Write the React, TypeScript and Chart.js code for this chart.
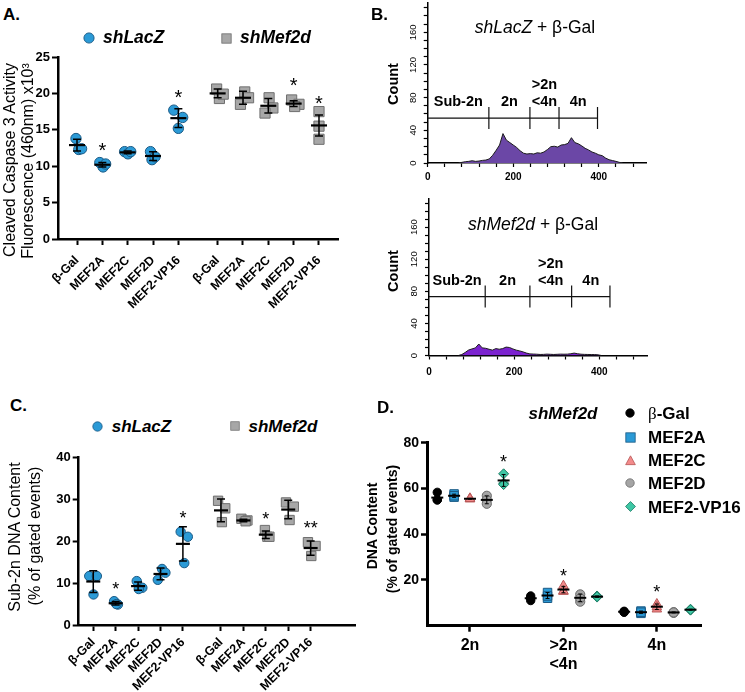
import React, { useEffect, useRef } from 'react';
import { Chart, registerables } from 'chart.js';
Chart.register(...registerables);

const FONT = "'Liberation Sans', Arial, Helvetica, sans-serif";
const SERIF = "'Liberation Serif', 'Times New Roman', serif";

// ---------------- Panel A: caspase 3 activity ----------------
const groupNames = ['β-Gal', 'MEF2A', 'MEF2C', 'MEF2D', 'MEF2-VP16'];
const caspaseLacZ = [[13.8, 12.3, 12.4], [10.5, 9.9, 10.3], [12.0, 11.7, 12.0], [12.0, 10.9, 11.3], [17.7, 16.7, 15.2]];
const caspaseMef2d = [[20.6, 19.3, 19.9], [20.2, 18.5, 19.4], [19.4, 18.0, 17.3], [19.1, 18.5, 18.2], [17.5, 15.5, 13.7]];
const caspaseLacZMean = [12.9, 10.2, 11.9, 11.4, 16.6];
const caspaseLacZSd = [0.8, 0.3, 0.2, 0.6, 1.3];
const caspaseMef2dMean = [20.0, 19.4, 18.3, 18.6, 15.6];
const caspaseMef2dSd = [0.6, 0.9, 1.0, 0.4, 1.45];
const caspaseStars: [number, number, string][] = [[1, 12.9, '*'], [4, 20.2, '*'], [8, 21.8, '*'], [9, 19.3, '*']];
const caspaseYTicks = [0, 5, 10, 15, 20, 25];

// ---------------- Panel C: sub-2n DNA content ----------------
const sub2nLacZ = [[11.7, 11.7, 7.3], [5.7, 4.9, 5.0], [10.5, 8.9, 8.6], [10.8, 13.4, 12.5], [22.3, 21.1, 14.8]];
const sub2nMef2d = [[29.7, 27.9, 24.6], [25.4, 25.0, 24.8], [22.7, 21.1, 21.1], [29.3, 28.3, 25.1], [19.8, 18.9, 16.5]];
const sub2nLacZMean = [10.4, 5.2, 9.3, 12.2, 19.4];
const sub2nLacZSd = [2.6, 0.4, 1.0, 1.4, 4.1];
const sub2nMef2dMean = [27.4, 25.0, 21.6, 27.6, 18.4];
const sub2nMef2dSd = [2.7, 0.3, 0.9, 2.2, 1.7];
const sub2nStars: [number, number, string][] = [[1, 9.6, '*'], [4, 26.7, '*'], [7, 26.3, '*'], [9, 24.3, '**']];
const sub2nYTicks = [0, 10, 20, 30, 40];

// ---------------- Panel B: DNA histograms ----------------
const histBinWidth = 8;
const lacZHistStart = 72;
const lacZCounts = [0, 0.8, 1.6, 2, 2.8, 2, 2.4, 3.2, 3.6, 5, 9.5, 15.5, 22, 36, 28, 25, 22, 19, 15, 12, 11, 11.5, 11, 12.5, 12, 13.5, 16.5, 20, 20.5, 19.5, 22, 22.5, 24, 31, 25, 23.5, 21, 18, 16, 13.5, 12, 10, 9, 6, 4, 3, 2, 0.8, 0];
const mef2dHistStart = 69;
const mef2dCounts = [0, 1.2, 3.8, 6.8, 8.2, 9.5, 14.3, 9.5, 9, 7.8, 6.7, 8.6, 7.8, 8.6, 10.5, 10, 8.2, 6.7, 5.7, 4.5, 3, 2, 1.8, 1.6, 1.3, 1.4, 1.7, 1.5, 1.3, 1.5, 1.7, 1.6, 1.7, 2.2, 3, 2.2, 1.6, 1.4, 1.3, 1.2, 1.2, 0.8, 0];
const lacZGates = [0, 143, 239, 307, 397];
const lacZGateY = 55;
const mef2dGates = [0, 132, 237, 335, 425];
const mef2dGateY = 73.5;
const gateNames = [['Sub-2n'], ['2n'], ['>2n', '<4n'], ['4n']];
const histXTicks = [0, 40, 80, 120, 160, 200, 240, 280, 320, 360, 400, 440, 480];
const histXLabels = [0, 200, 400];
const histYTicks = [0, 10, 20, 30, 40, 50, 60, 70, 80, 90, 100, 110, 120, 130, 140, 150, 160, 170, 180, 190];
const histYLabels = [0, 40, 80, 120, 160];

// ---------------- Panel D: DNA content in shMef2d ----------------
const dnaCategories: (string | string[])[] = ['2n', ['>2n', '<4n'], '4n'];
const dnaSeriesNames = ['β-Gal', 'MEF2A', 'MEF2C', 'MEF2D', 'MEF2-VP16'];
const dnaBGal = [[58.3, 55.0, 55.0], [13.0, 11.0, 12.0], [6.3, 6.0, 5.9]];
const dnaMef2a = [[57.6, 56.2, 56.8], [14.5, 12.0, 13.0], [6.4, 5.4, 5.9]];
const dnaMef2c = [[55.7, 55.3, 55.5], [17.5, 14.9, 15.2], [9.5, 7.2, 8.2]];
const dnaMef2d = [[56.8, 55.0, 53.3], [13.7, 10.5, 12.0], [5.9, 5.6, 5.8]];
const dnaVp16 = [[66.4, 62.3, 61.7], [13.0, 12.5, 12.7], [7.2, 6.8, 7.0]];
const dnaMeans = [[56.0, 12.0, 6.1], [56.8, 13.2, 5.9], [55.5, 15.8, 8.3], [55.0, 12.2, 5.8], [63.5, 12.7, 7.0]];
const dnaSds = [[1.9, 1.0, 0.2], [0.7, 1.3, 0.5], [0.2, 1.4, 1.2], [1.7, 1.6, 0.2], [2.6, 0.3, 0.2]];
const dnaStars: [number, number, number, string][] = [[4, 0, 73.3, '*'], [2, 1, 23.6, '*'], [2, 2, 16.8, '*']];
const dnaYTicks = [20, 40, 60, 80];

// ---------------- layout / style (not data) ----------------
const caspasePositions = [0, 1, 2, 3, 4, 5.55, 6.55, 7.55, 8.55, 9.55];
const sub2nPositions = [0, 1, 2, 3, 4, 5.7, 6.7, 7.7, 8.7, 9.7];
const caspaseJitterL = [[-0.04, 0.07, 0.18], [-0.1, 0.03, 0.13], [-0.12, 0.01, 0.12], [-0.1, -0.04, 0.08], [-0.18, 0.17, 0]];
const caspaseJitterM = [[-0.04, 0.07, 0.22], [0.07, -0.1, 0.22], [0.03, 0.18, -0.13], [-0.08, 0.21, 0.04], [0, 0, 0]];
const sub2nJitterL = [[-0.18, 0.16, 0.01], [-0.07, 0.1, 0.03], [-0.06, 0.19, 0.03], [-0.12, 0.07, 0.22], [-0.1, 0.22, 0.06]];
const sub2nJitterM = [[-0.13, 0.19, 0.04], [-0.09, 0.18, 0.1], [-0.04, 0.07, 0.16], [-0.1, 0.25, 0.06], [-0.12, 0.22, 0.03]];
const dnaOffsets = [-0.35, -0.17, 0, 0.18, 0.36];
const BLUE = '#2b9ad6';
const BLUE_EDGE = '#1b5a85';
const GREY = '#a7a7a7';
const GREY_EDGE = '#6f6f6f';
const dnaStyles = [
  { shape: 'circle', r: 4.2, fill: '#000000', edge: '#000000' },
  { shape: 'rect', r: 6, fill: BLUE, edge: BLUE_EDGE },
  { shape: 'triangle', r: 5.5, fill: '#f38b8b', edge: '#b95757' },
  { shape: 'circle', r: 4.6, fill: '#a5a5a5', edge: '#6a6a6a' },
  { shape: 'rectRot', r: 5, fill: '#3ec7a5', edge: '#1e7a64' },
];

function tickGrid(len: number, width: number) {
  return { display: true, drawOnChartArea: false, drawTicks: true, tickLength: len, tickWidth: width, tickColor: '#000' };
}

function drawStar(ctx: CanvasRenderingContext2D, text: string, px: number, py: number, size: number) {
  ctx.font = `${size}px ${FONT}`;
  ctx.textAlign = 'center';
  ctx.textBaseline = 'alphabetic';
  ctx.fillStyle = '#000';
  ctx.fillText(text, px, py + size * 0.58);
}

function groupStatsPlugin(positions: number[], means: number[], sds: number[], stars: [number, number, string][], half: number, cap: number, starSize: number) {
  return {
    id: 'groupStats',
    afterDatasetsDraw(chart: any) {
      const { ctx, scales } = chart;
      const x = scales.x;
      const y = scales.y;
      ctx.save();
      ctx.strokeStyle = '#000';
      means.forEach((m, i) => {
        const px = x.getPixelForValue(positions[i]);
        const py = y.getPixelForValue(m);
        const top = y.getPixelForValue(m + sds[i]);
        const bot = y.getPixelForValue(m - sds[i]);
        ctx.lineWidth = 1.5;
        ctx.beginPath();
        ctx.moveTo(px, top); ctx.lineTo(px, bot);
        ctx.moveTo(px - cap, top); ctx.lineTo(px + cap, top);
        ctx.moveTo(px - cap, bot); ctx.lineTo(px + cap, bot);
        ctx.stroke();
        ctx.lineWidth = 2.2;
        ctx.beginPath();
        ctx.moveTo(px - half, py); ctx.lineTo(px + half, py);
        ctx.stroke();
      });
      stars.forEach(([i, v, t]) => drawStar(ctx, t, x.getPixelForValue(positions[i]), y.getPixelForValue(v), starSize));
      ctx.restore();
    },
  };
}

function buildGroupChart(canvas: HTMLCanvasElement, p: any) {
  const lacPts: any[] = [];
  const mefPts: any[] = [];
  p.lacz.forEach((reps: number[], g: number) => reps.forEach((v, r) => lacPts.push({ x: p.positions[g] + p.jitL[g][r], y: v })));
  p.mef.forEach((reps: number[], g: number) => reps.forEach((v, r) => mefPts.push({ x: p.positions[g + 5] + p.jitM[g][r], y: v })));
  const labels = [...groupNames, ...groupNames];
  return new Chart(canvas, {
    type: 'scatter',
    data: {
      datasets: [
        { data: lacPts, pointStyle: 'circle', pointRadius: p.circleR, pointHoverRadius: p.circleR, backgroundColor: BLUE, borderColor: BLUE_EDGE, borderWidth: 1 },
        { data: mefPts, pointStyle: 'rect', pointRadius: p.rectR, pointHoverRadius: p.rectR, backgroundColor: GREY, borderColor: GREY_EDGE, borderWidth: 1 },
      ],
    },
    options: {
      animation: false,
      responsive: false,
      devicePixelRatio: 1,
      events: [],
      layout: { padding: p.padding },
      plugins: { legend: { display: false }, tooltip: { enabled: false } },
      scales: {
        x: {
          type: 'linear', min: p.xMin, max: p.xMax,
          afterBuildTicks: (s: any) => { s.ticks = p.positions.map((v: number) => ({ value: v })); },
          ticks: {
            autoSkip: false, minRotation: 45, maxRotation: 45, padding: p.xPad, color: '#000',
            font: { family: FONT, size: 12.5, weight: 'bold' },
            callback: (_v: any, i: number) => labels[i],
          },
          grid: tickGrid(6, 2),
          border: { display: true, color: '#000', width: 2.5 },
          afterFit: (s: any) => { s.height = p.xHeight; s.paddingLeft = 0; s.paddingRight = 0; },
        },
        y: {
          type: 'linear', min: 0, max: p.yMax,
          afterBuildTicks: (s: any) => { s.ticks = p.yTicks.map((v: number) => ({ value: v })); },
          ticks: { padding: 2, color: '#000', font: { family: FONT, size: 13, weight: 'bold' } },
          grid: tickGrid(6, 2),
          border: { display: true, color: '#000', width: 2.5 },
          afterFit: (s: any) => { s.width = p.yWidth; s.paddingTop = 0; s.paddingBottom = 0; },
        },
      },
    } as any,
    plugins: [groupStatsPlugin(p.positions, [...p.lMean, ...p.mMean], [...p.lSd, ...p.mSd], p.stars, p.half, p.cap, p.starSize)],
  });
}

function gatePlugin(gates: number[], gateY: number) {
  return {
    id: 'gates',
    afterDatasetsDraw(chart: any) {
      const { ctx, scales } = chart;
      const x = scales.x;
      const y = scales.y;
      const gy = y.getPixelForValue(gateY);
      ctx.save();
      ctx.strokeStyle = '#111';
      ctx.lineWidth = 1.2;
      ctx.beginPath();
      ctx.moveTo(x.getPixelForValue(gates[0]), gy);
      ctx.lineTo(x.getPixelForValue(gates[gates.length - 1]), gy);
      gates.slice(1).forEach((g) => {
        const gx = x.getPixelForValue(g);
        ctx.moveTo(gx, gy - 11);
        ctx.lineTo(gx, gy + 11);
      });
      ctx.stroke();
      ctx.fillStyle = '#000';
      ctx.font = `bold 14.5px ${FONT}`;
      ctx.textAlign = 'center';
      ctx.textBaseline = 'middle';
      gateNames.forEach((lines, i) => {
        const cx = (x.getPixelForValue(gates[i]) + x.getPixelForValue(gates[i + 1])) / 2;
        lines.forEach((t, j) => ctx.fillText(t, cx, gy - 16 - (lines.length - 1 - j) * 16.7));
      });
      ctx.restore();
    },
  };
}

function buildHist(canvas: HTMLCanvasElement, p: any) {
  const pts = p.counts.map((c: number, i: number) => ({ x: p.start + i * histBinWidth, y: c }));
  return new Chart(canvas, {
    type: 'line',
    data: {
      datasets: [{ data: pts, fill: 'origin', backgroundColor: p.fill, borderColor: '#1d1d1d', borderWidth: 1, pointRadius: 0, tension: 0 }],
    },
    options: {
      animation: false,
      responsive: false,
      devicePixelRatio: 1,
      events: [],
      layout: { padding: p.padding },
      plugins: { legend: { display: false }, tooltip: { enabled: false } },
      scales: {
        x: {
          type: 'linear', min: 0, max: 512,
          afterBuildTicks: (s: any) => { s.ticks = histXTicks.map((v) => ({ value: v })); },
          ticks: {
            autoSkip: false, minRotation: 0, maxRotation: 0, padding: p.xPad, color: '#000',
            font: { family: FONT, size: 10, weight: 'bold' },
            callback: (v: any) => (histXLabels.includes(v) ? String(v) : ''),
          },
          grid: tickGrid(4, 1.2),
          border: { display: true, color: '#000', width: 1.5 },
          afterFit: (s: any) => { s.height = p.xHeight; s.paddingLeft = 0; s.paddingRight = 0; },
        },
        y: {
          type: 'linear', min: 0, max: 196,
          afterBuildTicks: (s: any) => { s.ticks = histYTicks.map((v) => ({ value: v })); },
          ticks: {
            autoSkip: false, minRotation: 90, maxRotation: 90, crossAlign: 'center', padding: 2.4, color: '#000',
            font: { family: FONT, size: 9.5 },
            callback: (v: any) => (histYLabels.includes(v) ? String(v) : ''),
          },
          grid: tickGrid(4, 1.2),
          border: { display: true, color: '#000', width: 1.5 },
          afterFit: (s: any) => { s.width = p.yWidth; s.paddingTop = 0; s.paddingBottom = 0; },
        },
      },
    } as any,
    plugins: [gatePlugin(p.gates, p.gateY)],
  });
}

function dnaStatsPlugin() {
  return {
    id: 'dnaStats',
    afterDatasetsDraw(chart: any) {
      const { ctx, scales } = chart;
      const x = scales.x;
      const y = scales.y;
      ctx.save();
      ctx.strokeStyle = '#000';
      dnaMeans.forEach((row, s) => {
        row.forEach((m, c) => {
          const px = x.getPixelForValue(c + dnaOffsets[s]);
          const py = y.getPixelForValue(m);
          const top = y.getPixelForValue(m + dnaSds[s][c]);
          const bot = y.getPixelForValue(m - dnaSds[s][c]);
          ctx.lineWidth = 1;
          ctx.beginPath();
          ctx.moveTo(px, top); ctx.lineTo(px, bot);
          ctx.moveTo(px - 2, top); ctx.lineTo(px + 2, top);
          ctx.moveTo(px - 2, bot); ctx.lineTo(px + 2, bot);
          ctx.stroke();
          ctx.lineWidth = 2;
          ctx.beginPath();
          ctx.moveTo(px - 6, py); ctx.lineTo(px + 6, py);
          ctx.stroke();
        });
      });
      dnaStars.forEach(([s, c, v, t]) => drawStar(ctx, t, x.getPixelForValue(c + dnaOffsets[s]), y.getPixelForValue(v), 18));
      ctx.restore();
    },
  };
}

function buildDna(canvas: HTMLCanvasElement) {
  const seriesData = [dnaBGal, dnaMef2a, dnaMef2c, dnaMef2d, dnaVp16];
  const datasets = seriesData.map((cats, s) => {
    const st = dnaStyles[s];
    const pts: any[] = [];
    cats.forEach((reps, c) => reps.forEach((v) => pts.push({ x: c + dnaOffsets[s], y: v })));
    return {
      label: dnaSeriesNames[s], data: pts, pointStyle: st.shape, pointRadius: st.r, pointHoverRadius: st.r,
      backgroundColor: st.fill, borderColor: st.edge, borderWidth: 1,
    };
  });
  return new Chart(canvas, {
    type: 'scatter',
    data: { datasets },
    options: {
      animation: false,
      responsive: false,
      devicePixelRatio: 1,
      events: [],
      layout: { padding: { top: 22.7, right: 43.3, left: 0, bottom: 0 } },
      plugins: { legend: { display: false }, tooltip: { enabled: false } },
      scales: {
        x: {
          type: 'linear', min: -0.46, max: 2.48,
          afterBuildTicks: (s: any) => { s.ticks = [0, 1, 2].map((v) => ({ value: v })); },
          ticks: {
            autoSkip: false, minRotation: 0, maxRotation: 0, padding: 5, color: '#000',
            font: { family: FONT, size: 16, weight: 'bold', lineHeight: 1.15 },
            callback: (_v: any, i: number) => dnaCategories[i],
          },
          grid: tickGrid(6, 2.5),
          border: { display: true, color: '#000', width: 3 },
          afterFit: (s: any) => { s.height = 66.3; s.paddingLeft = 0; s.paddingRight = 0; },
        },
        y: {
          type: 'linear', min: 0, max: 80,
          afterBuildTicks: (s: any) => { s.ticks = dnaYTicks.map((v) => ({ value: v })); },
          ticks: { padding: 2, color: '#000', font: { family: FONT, size: 14, weight: 'bold' } },
          grid: tickGrid(6, 2.5),
          border: { display: true, color: '#000', width: 3 },
          afterFit: (s: any) => { s.width = 47; s.paddingTop = 0; s.paddingBottom = 0; },
        },
      },
    } as any,
    plugins: [dnaStatsPlugin()],
  });
}

function Txt({ x, y, size, weight = 'normal', italic = false, family = FONT, align = 'center', rotate = 0, children }: any) {
  const tx = align === 'center' ? '-50%' : align === 'left' ? '0' : '-100%';
  return (
    <div
      style={{
        position: 'absolute', left: x, top: y,
        transform: `translate(${tx}, -50%)${rotate ? ` rotate(${rotate}deg)` : ''}`,
        fontFamily: family, fontSize: size, fontWeight: weight, fontStyle: italic ? 'italic' : 'normal',
        lineHeight: 1, whiteSpace: 'nowrap', color: '#000',
      }}
    >
      {children}
    </div>
  );
}

function Marker({ x, y, shape, size, fill, edge }: any) {
  let el: any = null;
  if (shape === 'circle') el = <circle cx="10" cy="10" r="8.5" fill={fill} stroke={edge} strokeWidth="1.5" />;
  else if (shape === 'rect') el = <rect x="1.5" y="1.5" width="17" height="17" fill={fill} stroke={edge} strokeWidth="1.5" />;
  else if (shape === 'triangle') el = <polygon points="10,1.5 18.8,17.5 1.2,17.5" fill={fill} stroke={edge} strokeWidth="1.5" />;
  else el = <polygon points="10,1 19,10 10,19 1,10" fill={fill} stroke={edge} strokeWidth="1.5" />;
  return (
    <svg width={size} height={size} viewBox="0 0 20 20" style={{ position: 'absolute', left: x - size / 2, top: y - size / 2 }}>
      {el}
    </svg>
  );
}

function Canvas({ cref, left, top, w, h }: any) {
  return <canvas ref={cref} width={w} height={h} style={{ position: 'absolute', left, top, width: w, height: h }} />;
}

export default function App() {
  const aRef = useRef<HTMLCanvasElement>(null);
  const b1Ref = useRef<HTMLCanvasElement>(null);
  const b2Ref = useRef<HTMLCanvasElement>(null);
  const cRef = useRef<HTMLCanvasElement>(null);
  const dRef = useRef<HTMLCanvasElement>(null);

  useEffect(() => {
    const charts: Chart[] = [];
    charts.push(buildGroupChart(aRef.current!, {
      lacz: caspaseLacZ, mef: caspaseMef2d, positions: caspasePositions, jitL: caspaseJitterL, jitM: caspaseJitterM,
      lMean: caspaseLacZMean, lSd: caspaseLacZSd, mMean: caspaseMef2dMean, mSd: caspaseMef2dSd, stars: caspaseStars,
      yMax: 25, yTicks: caspaseYTicks, xMin: -0.75, xMax: 10.3, circleR: 5.2, rectR: 7.2, xPad: 8,
      padding: { top: 17, right: 12, left: 0, bottom: 0 }, xHeight: 106, yWidth: 58, half: 8, cap: 4, starSize: 20,
    }));
    charts.push(buildHist(b1Ref.current!, {
      counts: lacZCounts, start: lacZHistStart, gates: lacZGates, gateY: lacZGateY, fill: '#6b47a6', xPad: 4.7,
      padding: { top: 2.9, right: 98.3, left: 0, bottom: 0 }, xHeight: 27, yWidth: 47.7,
    }));
    charts.push(buildHist(b2Ref.current!, {
      counts: mef2dCounts, start: mef2dHistStart, gates: mef2dGates, gateY: mef2dGateY, fill: '#7b22cf', xPad: 7,
      padding: { top: 13.3, right: 98, left: 0, bottom: 0 }, xHeight: 29.5, yWidth: 49,
    }));
    charts.push(buildGroupChart(cRef.current!, {
      lacz: sub2nLacZ, mef: sub2nMef2d, positions: sub2nPositions, jitL: sub2nJitterL, jitM: sub2nJitterM,
      lMean: sub2nLacZMean, lSd: sub2nLacZSd, mMean: sub2nMef2dMean, mSd: sub2nMef2dSd, stars: sub2nStars,
      yMax: 40, yTicks: sub2nYTicks, xMin: -0.65, xMax: 11.68, circleR: 4.7, rectR: 6.6, xPad: 4,
      padding: { top: 17.7, right: 10, left: 0, bottom: 0 }, xHeight: 67, yWidth: 78.7, half: 7, cap: 4, starSize: 18,
    }));
    charts.push(buildDna(dRef.current!));
    return () => charts.forEach((c) => c.destroy());
  }, []);

  const legendRows = [413, 437, 460, 483, 506.5];

  return (
    <div style={{ position: 'absolute', left: 0, top: 0, width: 745, height: 692, background: '#fff', overflow: 'hidden' }}>
      <Canvas cref={aRef} left={0} top={40} w={350} h={305} />
      <Canvas cref={b1Ref} left={380} top={0} w={365} h={190} />
      <Canvas cref={b2Ref} left={380} top={185} w={365} h={200} />
      <Canvas cref={cRef} left={0} top={440} w={365} h={252} />
      <Canvas cref={dRef} left={380} top={420} w={365} h={272} />

      {/* panel letters */}
      <Txt x={3} y={14} size={17} weight="bold" align="left">A.</Txt>
      <Txt x={371} y={14} size={17} weight="bold" align="left">B.</Txt>
      <Txt x={10} y={405} size={17} weight="bold" align="left">C.</Txt>
      <Txt x={377} y={407} size={17} weight="bold" align="left">D.</Txt>

      {/* Panel A legend + axis title */}
      <Marker x={89} y={38} shape="circle" size={12} fill={BLUE} edge={BLUE_EDGE} />
      <Txt x={103} y={38} size={17.5} weight="bold" italic align="left">shLacZ</Txt>
      <Marker x={226} y={38} shape="rect" size={11} fill={GREY} edge={GREY_EDGE} />
      <Txt x={240} y={38} size={17.5} weight="bold" italic align="left">shMef2d</Txt>
      <Txt x={10} y={160} size={16} rotate={-90}>Cleaved Caspase 3 Activity</Txt>
      <Txt x={28} y={161} size={16} rotate={-90}>Fluorescence (460nm) x10³</Txt>

      {/* Panel B titles */}
      <Txt x={535} y={28} size={17.5}><i>shLacZ</i> + β-Gal</Txt>
      <Txt x={533} y={225} size={17.5}><i>shMef2d</i> + β-Gal</Txt>
      <Txt x={393} y={84} size={14.5} weight="bold" rotate={-90}>Count</Txt>
      <Txt x={393} y={271} size={14.5} weight="bold" rotate={-90}>Count</Txt>

      {/* Panel C legend + axis title */}
      <Marker x={97} y={426} shape="circle" size={11} fill={BLUE} edge={BLUE_EDGE} />
      <Txt x={111.7} y={426} size={17} weight="bold" italic align="left">shLacZ</Txt>
      <Marker x={234.7} y={426} shape="rect" size={10} fill={GREY} edge={GREY_EDGE} />
      <Txt x={248.5} y={426} size={17} weight="bold" italic align="left">shMef2d</Txt>
      <Txt x={15} y={537} size={16} rotate={-90}>Sub-2n DNA Content</Txt>
      <Txt x={35} y={536} size={16} rotate={-90}>(% of gated events)</Txt>

      {/* Panel D title, legend, axis title */}
      <Txt x={563} y={legendRows[0]} size={17} weight="bold" italic>shMef2d</Txt>
      {dnaSeriesNames.map((name, i) => (
        <React.Fragment key={name}>
          <Marker x={630} y={legendRows[i]} shape={dnaStyles[i].shape} size={i === 0 || i === 3 ? 10 : 11} fill={dnaStyles[i].fill} edge={dnaStyles[i].edge} />
          <Txt x={648} y={legendRows[i]} size={17} weight="bold" align="left">
            {name.startsWith('β') ? (<><span style={{ fontFamily: SERIF, fontWeight: 'normal' }}>β</span>{name.slice(1)}</>) : name}
          </Txt>
        </React.Fragment>
      ))}
      <Txt x={372} y={526} size={14} weight="bold" rotate={-90}>DNA Content</Txt>
      <Txt x={392} y={529} size={14} weight="bold" rotate={-90}>(% of gated events)</Txt>
    </div>
  );
}
